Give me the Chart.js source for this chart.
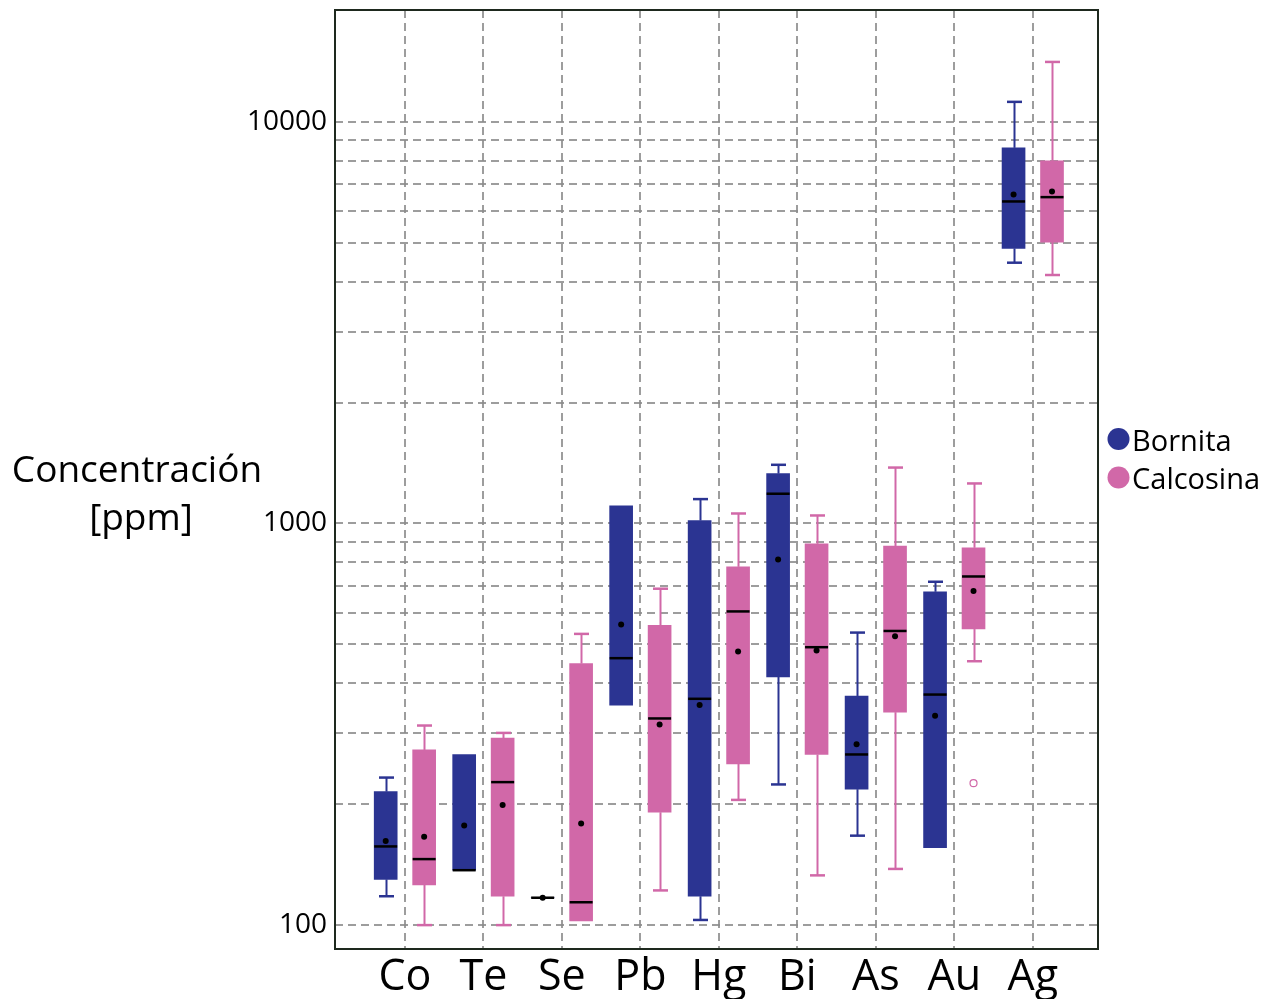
<!DOCTYPE html>
<html><head><meta charset="utf-8">
<script src="https://cdn.jsdelivr.net/npm/chart.js@4.4.0/dist/chart.umd.min.js"></script>
<style>html,body{margin:0;padding:0;background:#fff;overflow:hidden;}</style>
</head><body>
<canvas id="c" width="1266" height="999"></canvas>
<script>
// ---------- data ----------
const categories = ['Co','Te','Se','Pb','Hg','Bi','As','Au','Ag'];
const seriesNames = ['Bornita','Calcosina'];

const bornitaMin    = [118, 137, 117, 353, 103, 224, 167, 156, 4460];
const bornitaQ1     = [130, 137, 117, 353, 118, 415, 218, 156, 4840];
const bornitaMedian = [157, 137, 117, 462, 366, 1186, 266, 375, 6336];
const bornitaQ3     = [215, 266, 117, 1106, 1017, 1331, 372, 676, 8616];
const bornitaMax    = [233, 266, 117, 1106, 1150, 1400, 535, 716, 11215];
const bornitaMean   = [162, 177, 117, 560, 353, 813, 282, 332, 6595];

const calcosinaMin    = [100, 100, 102.5, 122, 205, 133, 138, 454, 4156];
const calcosinaQ1     = [126, 118, 102.5, 191, 252, 266, 339, 546, 5020];
const calcosinaMedian = [146, 227, 114, 327, 604, 492, 540, 738, 6495];
const calcosinaQ3     = [273, 292, 448, 558, 780, 890, 878, 870, 8000];
const calcosinaMax    = [314, 301, 531, 688, 1059, 1047, 1378, 1258, 14100];
const calcosinaMean   = [166, 199, 179, 316, 480, 483, 524, 679, 6708];

const calcosinaOutlierCat = [7];
const calcosinaOutlierVal = [225.6];

const yGridValues = [100,200,300,400,500,600,700,800,900,1000,2000,3000,4000,5000,6000,7000,8000,9000,10000];
const yTickLabels = [100, 1000, 10000];
const yTitleLines = ['Concentración', '[ppm]'];

// ---------- styling ----------
const FONT = "'Open Sans', 'Noto Sans', sans-serif";
const COL_B = 'rgb(43,52,146)';
const COL_C = 'rgb(209,104,168)';
const GRID = 'rgba(140,140,140,0.85)';
const OFFSET = 0.245;

const series = [
  {name: seriesNames[0], color: COL_B, offset: -OFFSET, min: bornitaMin, q1: bornitaQ1, med: bornitaMedian, q3: bornitaQ3, max: bornitaMax, mean: bornitaMean},
  {name: seriesNames[1], color: COL_C, offset: OFFSET, min: calcosinaMin, q1: calcosinaQ1, med: calcosinaMedian, q3: calcosinaQ3, max: calcosinaMax, mean: calcosinaMean}
];

const boxDatasets = series.map(s => ({
  type: 'bar',
  label: s.name,
  data: categories.map((c, i) => ({x: i + s.offset, y: [s.q1[i], s.q3[i]]})),
  backgroundColor: s.color,
  borderWidth: 0,
  barThickness: 23,
  grouped: false,
  order: 3
}));

const meanDataset = {
  type: 'scatter',
  label: 'mean',
  data: series.flatMap(s => categories.map((c, i) => ({x: i + s.offset, y: s.mean[i]}))),
  backgroundColor: '#000',
  borderColor: '#000',
  pointRadius: 3,
  borderWidth: 0,
  order: 1
};

const outlierDataset = {
  type: 'scatter',
  label: 'outlier',
  data: calcosinaOutlierCat.map((c, k) => ({x: c + OFFSET, y: calcosinaOutlierVal[k]})),
  backgroundColor: '#fff',
  borderColor: COL_C,
  pointRadius: 3.5,
  borderWidth: 1.2,
  order: 1
};

const boxParts = {
  id: 'boxParts',
  beforeDatasetsDraw(chart) {
    const {ctx} = chart, x = chart.scales.x, y = chart.scales.y;
    ctx.save();
    ctx.setLineDash([]);
    series.forEach(s => {
      for (let i = 0; i < categories.length; i++) {
        const cx = Math.round(x.getPixelForValue(i + s.offset)) + 0.5;
        [[s.max[i], s.q3[i]], [s.min[i], s.q1[i]]].forEach(([end, edge]) => {
          if (end === edge) return;
          const yE = y.getPixelForValue(end), yB = y.getPixelForValue(edge);
          ctx.strokeStyle = s.color;
          ctx.lineWidth = 2;
          ctx.beginPath(); ctx.moveTo(cx, yB); ctx.lineTo(cx, yE); ctx.stroke();
          ctx.lineWidth = 2.5;
          ctx.beginPath(); ctx.moveTo(cx - 7.5, yE); ctx.lineTo(cx + 7.5, yE); ctx.stroke();
        });
      }
    });
    ctx.restore();
  },
  afterDatasetDraw(chart, args) {
    if (args.index > 1) return;
    const s = series[args.index];
    const {ctx} = chart, y = chart.scales.y;
    const meta = chart.getDatasetMeta(args.index);
    ctx.save();
    ctx.setLineDash([]);
    ctx.strokeStyle = '#000';
    ctx.lineWidth = 2.5;
    meta.data.forEach((bar, i) => {
      const py = y.getPixelForValue(s.med[i]);
      ctx.beginPath();
      ctx.moveTo(bar.x - bar.width / 2, py);
      ctx.lineTo(bar.x + bar.width / 2, py);
      ctx.stroke();
    });
    ctx.restore();
  },
  afterDraw(chart) {
    const {ctx, chartArea: a} = chart;
    ctx.save();
    ctx.setLineDash([]);
    ctx.strokeStyle = '#1e291e';
    ctx.lineWidth = 2;
    ctx.strokeRect(a.left, a.top, a.right - a.left, a.bottom - a.top);
    // y title
    ctx.fillStyle = '#000';
    ctx.font = '37px ' + FONT;
    ctx.textAlign = 'center';
    ctx.textBaseline = 'alphabetic';
    ctx.fillText(yTitleLines[0], 137, 482);
    ctx.fillText(yTitleLines[1], 141, 530);
    // legend
    const ly = [439, 477.5];
    series.forEach((s, k) => {
      ctx.fillStyle = s.color;
      ctx.beginPath(); ctx.arc(1118.5, ly[k], 11, 0, Math.PI * 2); ctx.fill();
      ctx.fillStyle = '#000';
      ctx.font = '29px ' + FONT;
      ctx.textAlign = 'left';
      ctx.fillText(s.name, 1132, ly[k] + 11.5);
    });
    ctx.restore();
  }
};

new Chart(document.getElementById('c'), {
  type: 'bar',
  data: {datasets: [...boxDatasets, meanDataset, outlierDataset]},
  plugins: [boxParts],
  options: {
    responsive: false,
    devicePixelRatio: 1,
    animation: false,
    layout: {padding: {left: 0, right: 168, top: 10, bottom: 0}},
    plugins: {legend: {display: false}, tooltip: {enabled: false}},
    scales: {
      x: {
        type: 'linear',
        min: -0.891,
        max: 8.831,
        offset: false,
        afterBuildTicks: sc => { sc.ticks = categories.map((c, i) => ({value: i})); },
        afterFit: sc => { sc.height = 50; sc.paddingLeft = 0; sc.paddingRight = 0; },
        grid: {offset: false, drawTicks: false, color: GRID, lineWidth: 2},
        border: {display: false, dash: [8, 5]},
        ticks: {
          autoSkip: false, maxRotation: 0, padding: 3,
          font: {family: FONT, size: 43}, color: '#000',
          callback: v => categories[Math.round(v)]
        }
      },
      y: {
        type: 'logarithmic',
        min: 87.2,
        max: 18990,
        afterBuildTicks: sc => { sc.ticks = yGridValues.map(v => ({value: v})); },
        afterFit: sc => { sc.width = 335; sc.paddingTop = 0; sc.paddingBottom = 0; },
        grid: {drawTicks: false, color: GRID, lineWidth: 2},
        border: {display: false, dash: [8, 5]},
        ticks: {
          autoSkip: false, padding: 8,
          font: {family: FONT, size: 28}, color: '#000',
          callback: v => yTickLabels.includes(v) ? String(v) : ''
        }
      }
    }
  }
});
</script>
</body></html>
